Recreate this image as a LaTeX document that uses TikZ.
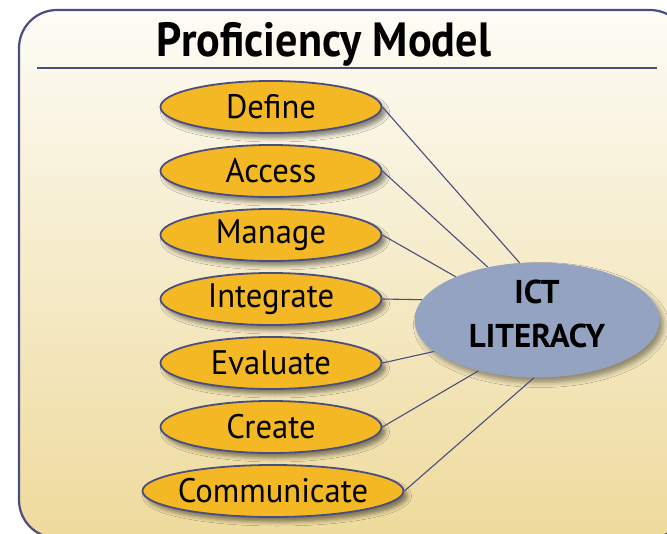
\documentclass[tikz,border=0pt]{standalone}
\usepackage{fontspec}
\setmainfont{PT Sans}
\newfontfamily\narrowfont[FakeStretch=0.92]{PT Sans}
\newfontfamily\skillfont[FakeStretch=0.96]{PT Sans}
\usetikzlibrary{shapes.geometric, shadows.blur}

\definecolor{framecol}{RGB}{74,78,126}
\definecolor{skillfill}{RGB}{244,184,37}
\definecolor{ictfill}{RGB}{149,163,195}
\definecolor{papertop}{RGB}{253,252,246}
\definecolor{papermid}{RGB}{241,226,172}
\definecolor{paperbottom}{RGB}{238,218,156}

\begin{document}
\begin{tikzpicture}[
            x = 1pt, y = -1pt, % pixel units, y grows downwards
            node distance = 64pt, % distance between skill ellipses
            semithick % line style
        ]

        \tikzstyle{skill}=[
            ellipse,
            draw = framecol,
            line width = 1.8pt,
            fill = skillfill,
            minimum width = 221pt,
            minimum height = 52pt,
            inner xsep = -40pt, inner ysep = 0pt, % let the minimum size decide
            font = \skillfont\fontsize{34}{34}\selectfont,
            blur shadow = {shadow xshift = 4pt, shadow yshift = -5pt,
                shadow blur radius = 4pt, shadow opacity = 45}
        ]
        \tikzstyle{link}=[draw = framecol, line width = 1.1pt]

        \useasboundingbox (0,0) rectangle (667,534);

        % frame with paper shading
        \path[draw = framecol, line width = 2.2pt, rounded corners = 38pt,
            top color = papertop, middle color = papermid,
            bottom color = paperbottom] (19,10) rectangle (688,538);

        \node[anchor = base, font = \narrowfont\bfseries\fontsize{48}{48}\selectfont]
            (title) at (324,57) {Proficiency Model};
        \draw[framecol, line width = 1.6pt] (37,68) -- (657,68);

        \node[ellipse, fill = ictfill, minimum width = 245pt, minimum height = 115pt,
            inner sep = 0pt, align = center, text depth = 13pt,
            font = \bfseries\fontsize{33}{44}\selectfont,
            blur shadow = {shadow xshift = 4pt, shadow yshift = -5pt,
                shadow blur radius = 5pt, shadow opacity = 40}]
            (ict) at (537,320) {ICT\\LITERACY};

        \node[skill] (define) at (271,107) {Define};
        \node[skill] (access) [below of=define] {Access};
        \node[skill] (manage) [below of=access] {Manage};
        \node[skill] (integrate) [below of=manage] {Integrate};
        \node[skill] (evaluate) [below of=integrate] {Evaluate};
        \node[skill] (create) [below of=evaluate] {Create};
        \node[skill, minimum width = 261pt, xshift = 2pt] (communicate) [below of=create] {Communicate};

        \path[link] (define.east) edge (ict.107)
            (access.east) edge (ict.133)
            (manage.east) edge (ict.152)
            (integrate.east) edge (ict.170)
            (evaluate.east) edge (ict.197)
            (create.east) edge (ict.221)
            (communicate.east) edge (ict.267);
    \end{tikzpicture}
\end{document}
